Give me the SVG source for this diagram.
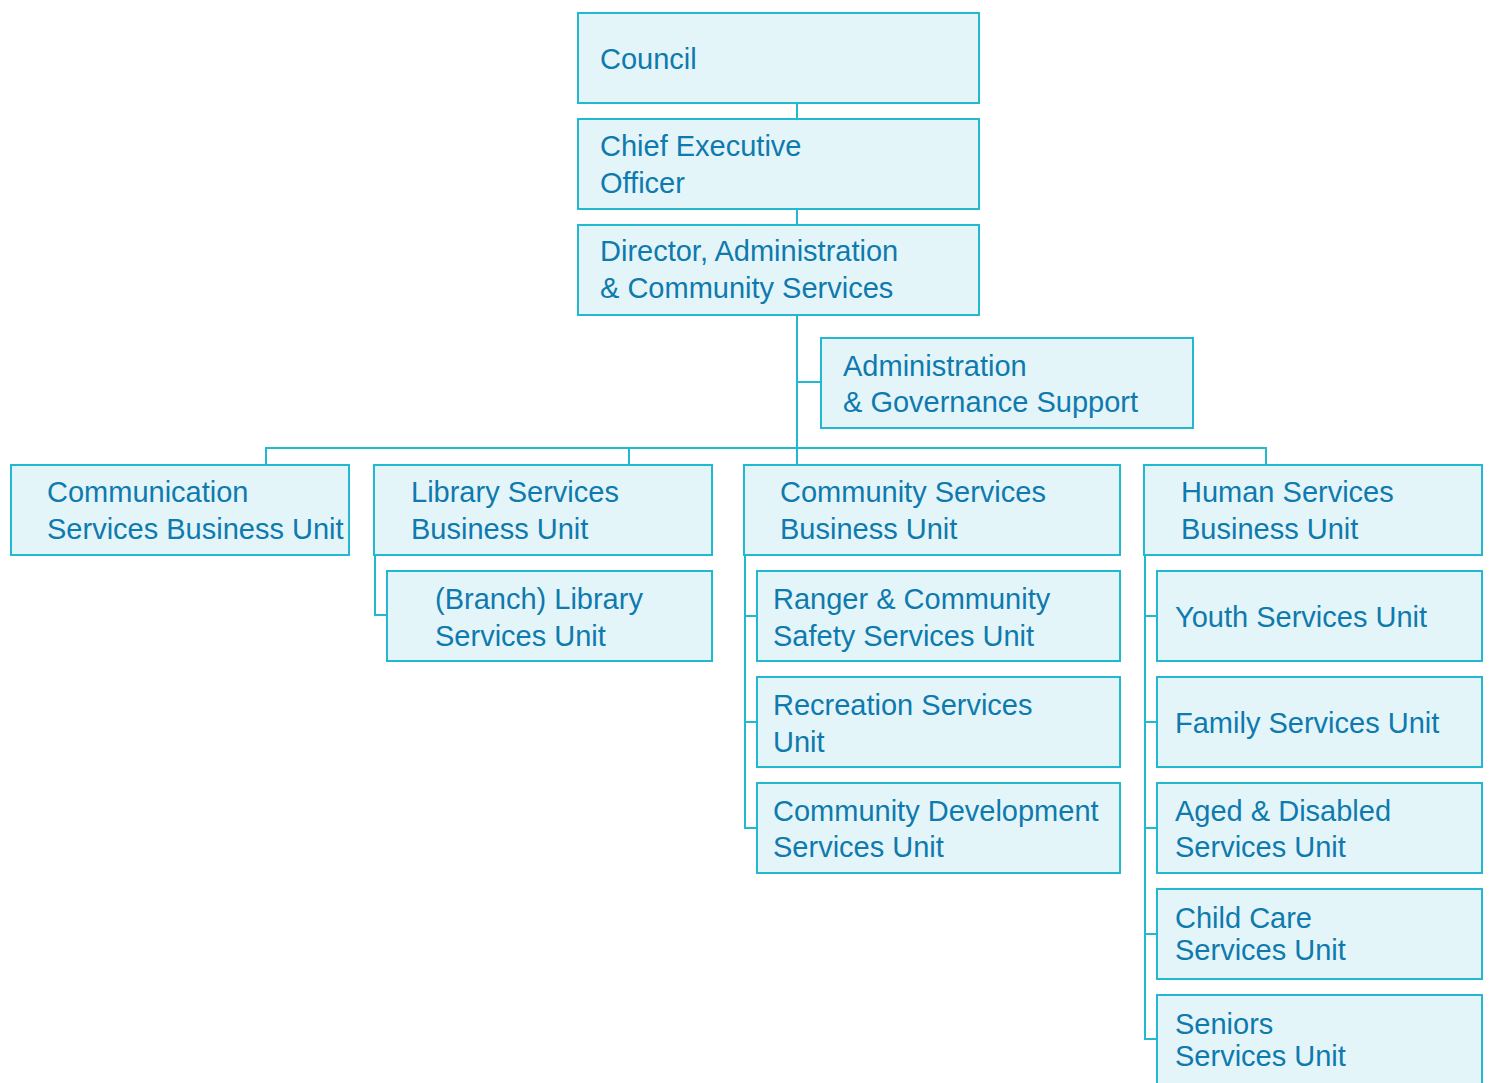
<svg xmlns="http://www.w3.org/2000/svg" width="1490" height="1083" viewBox="0 0 1490 1083">
<style>
.box{fill:#e4f5f9;stroke:#22b8cf;stroke-width:2}
.ln{fill:none;stroke:#22b8cf;stroke-width:2}
text{font-family:"Liberation Sans",Arial,sans-serif;font-size:29px;fill:#0e7aae}
</style>
<rect width="1490" height="1083" fill="#ffffff"/>
<g id="connectors">
<path class="ln" d="M797 103V118M797 209V224M797 315V464M797 382H821M266 464V448H1266V464M629 448V464"/>
<path class="ln" d="M375 555V615H387"/>
<path class="ln" d="M745 555V828H757M745 616H757M745 722H757"/>
<path class="ln" d="M1145 555V1039H1157M1145 616H1157M1145 722H1157M1145 828H1157M1145 934H1157"/>
</g>
<g id="council"><rect class="box" x="578" y="13" width="401" height="90"/><text x="600" y="69">Council</text></g>
<g id="ceo"><rect class="box" x="578" y="119" width="401" height="90"/><text x="600" y="156">Chief Executive</text><text x="600" y="193">Officer</text></g>
<g id="director"><rect class="box" x="578" y="225" width="401" height="90"/><text x="600" y="261">Director, Administration</text><text x="600" y="298">&amp; Community Services</text></g>
<g id="admin"><rect class="box" x="821" y="338" width="372" height="90"/><text x="843" y="376">Administration</text><text x="843" y="412">&amp; Governance Support</text></g>
<g id="communication"><rect class="box" x="11" y="465" width="338" height="90"/><text x="47" y="502">Communication</text><text x="47" y="539">Services Business Unit</text></g>
<g id="library"><rect class="box" x="374" y="465" width="338" height="90"/><text x="411" y="502">Library Services</text><text x="411" y="539">Business Unit</text></g>
<g id="community"><rect class="box" x="744" y="465" width="376" height="90"/><text x="780" y="502">Community Services</text><text x="780" y="539">Business Unit</text></g>
<g id="human"><rect class="box" x="1144" y="465" width="338" height="90"/><text x="1181" y="502">Human Services</text><text x="1181" y="539">Business Unit</text></g>
<g id="branch"><rect class="box" x="387" y="571" width="325" height="90"/><text x="435" y="609">(Branch) Library</text><text x="435" y="646">Services Unit</text></g>
<g id="ranger"><rect class="box" x="757" y="571" width="363" height="90"/><text x="773" y="609">Ranger &amp; Community</text><text x="773" y="646">Safety Services Unit</text></g>
<g id="recreation"><rect class="box" x="757" y="677" width="363" height="90"/><text x="773" y="715">Recreation Services</text><text x="773" y="752">Unit</text></g>
<g id="commdev"><rect class="box" x="757" y="783" width="363" height="90"/><text x="773" y="821">Community Development</text><text x="773" y="857">Services Unit</text></g>
<g id="youth"><rect class="box" x="1157" y="571" width="325" height="90"/><text x="1175" y="627">Youth Services Unit</text></g>
<g id="family"><rect class="box" x="1157" y="677" width="325" height="90"/><text x="1175" y="733">Family Services Unit</text></g>
<g id="aged"><rect class="box" x="1157" y="783" width="325" height="90"/><text x="1175" y="821">Aged &amp; Disabled</text><text x="1175" y="857">Services Unit</text></g>
<g id="childcare"><rect class="box" x="1157" y="889" width="325" height="90"/><text x="1175" y="928">Child Care</text><text x="1175" y="960">Services Unit</text></g>
<g id="seniors"><rect class="box" x="1157" y="995" width="325" height="100"/><text x="1175" y="1034">Seniors</text><text x="1175" y="1066">Services Unit</text></g>
</svg>
